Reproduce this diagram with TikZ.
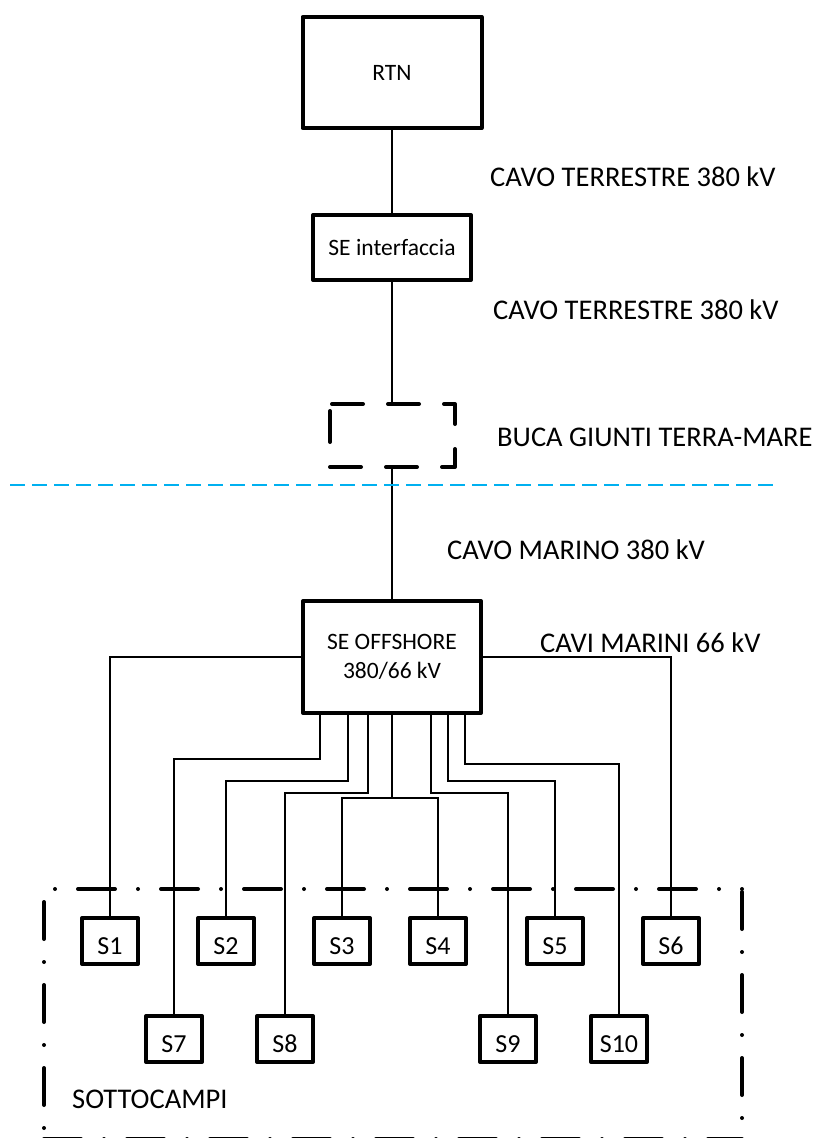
\documentclass[tikz,border=0pt]{standalone}
\usepackage{fontspec}
\setmainfont{Carlito}
\usetikzlibrary{calc}
\definecolor{seablue}{RGB}{0,176,240}
\newcommand\myboxfont{\fontsize{23.5}{29}\selectfont}
\newcommand\mylblfont{\fontsize{28.5}{34}\selectfont}
\newcommand\mysfont{\fontsize{26}{30}\selectfont}
\begin{document}
\begin{tikzpicture}[x=1pt,y=-1pt,
  box/.style={draw, line width=4pt, line join=round, inner sep=0pt, outer sep=0pt, font=\myboxfont, align=center},
  sbox/.style={box, minimum width=56pt, minimum height=46pt, font=\mysfont, text height=26pt, text depth=0pt},
  wire/.style={line width=1.5pt},
  lbl/.style={anchor=base west, inner sep=0pt, font=\mylblfont},
  frameline/.style={line width=4pt, line cap=round, dash pattern=on 37pt off 23pt on 0pt off 23pt},
  joinbox/.style={line width=4pt, line cap=round, line join=round, dash pattern=on 31pt off 25pt, dash phase=54pt}]
\useasboundingbox (0,0) rectangle (817,1138);

% main chain
\node[box, minimum width=179pt, minimum height=111pt] (rtn) at (392,72.5) {RTN};
\node[box, minimum width=158pt, minimum height=65pt] (seint) at (392,247.5) {SE interfaccia};
\node[inner sep=0pt, outer sep=0pt, minimum width=125pt, minimum height=63pt] (buca) at (392.5,435.5) {};
\draw[joinbox] (buca.north west) -- (buca.north east) -- (buca.south east) -- (buca.south west) -- cycle;
\node[box, minimum width=178pt, minimum height=112pt] (off) at (392,657) {SE OFFSHORE\\380/66 kV};

\draw[wire] (rtn.south) -- (seint.north);
\draw[wire] (seint.south) -- (seint.south |- buca.north);
\draw[wire] (seint.south |- buca.south) -- (off.north);

% sea line
\draw[seablue, line width=2pt, dash pattern=on 15pt off 7pt] (10,485) -- (773,485);

% labels
\node[lbl] (l1) at (490,186) {CAVO TERRESTRE 380 kV};
\node[lbl] (l2) at (493,319) {CAVO TERRESTRE 380 kV};
\node[lbl] (l3) at (497,446) {BUCA GIUNTI TERRA-MARE};
\node[lbl] (l4) at (447,559) {CAVO MARINO 380 kV};
\node[lbl] (l5) at (540,652) {CAVI MARINI 66 kV};
\node[lbl] (l6) at (72,1108) {SOTTOCAMPI};

% sub-fields
\node[sbox] (s1) at (110,941) {S1};
\node[sbox] (s2) at (226,941) {S2};
\node[sbox] (s3) at (342,941) {S3};
\node[sbox] (s4) at (438,941) {S4};
\node[sbox] (s5) at (555,941) {S5};
\node[sbox] (s6) at (671,941) {S6};
\node[sbox] (s7) at (174,1039) {S7};
\node[sbox] (s8) at (285,1039) {S8};
\node[sbox] (s9) at (508,1039) {S9};
\node[sbox] (s10) at (619,1039) {S10};

% cables 66 kV
\draw[wire] (off.west) -| (s1.north);
\draw[wire] (off.east) -| (s6.north);
\draw[wire] ($(off.south)+(-72,0)$) -- ++(0,46) -| (s7.north);
\draw[wire] ($(off.south)+(-44,0)$) -- ++(0,68) -| (s2.north);
\draw[wire] ($(off.south)+(-24,0)$) -- ++(0,80) -| (s8.north);
\draw[wire] (off.south) -- ++(0,85) coordinate (jc);
\draw[wire] (s3.north) |- (jc) -| (s4.north);
\draw[wire] ($(off.south)+(39,0)$) -- ++(0,80) -| (s9.north);
\draw[wire] ($(off.south)+(56,0)$) -- ++(0,68) -| (s5.north);
\draw[wire] ($(off.south)+(73,0)$) -- ++(0,51) -| (s10.north);

% dash-dot frame
\draw[frameline, dash phase=49pt] (44,889) -- (742,889);
\draw[frameline, dash phase=70pt] (44,889) -- (44,1139);
\draw[frameline, dash phase=80pt] (742,889) -- (742,1139);
\draw[frameline, dash phase=0pt] (44,1139) -- (742,1139);
\end{tikzpicture}
\end{document}
